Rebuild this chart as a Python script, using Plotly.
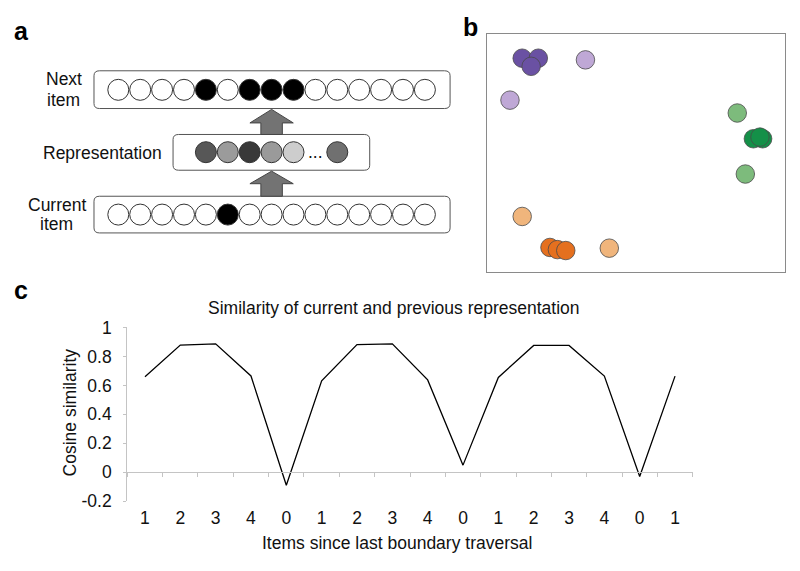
import plotly.graph_objects as go

W, H = 800, 571
FONT = "Liberation Sans, Arial, sans-serif"

# ---------------- Panel c data ----------------
c_labels = ["1", "2", "3", "4", "0", "1", "2", "3", "4", "0", "1", "2", "3", "4", "0", "1"]
c_values = [0.66, 0.878, 0.887, 0.665, -0.09, 0.631, 0.882, 0.887, 0.638, 0.049,
            0.655, 0.876, 0.876, 0.664, -0.03, 0.664]
c_pos = list(range(len(c_labels)))
c_yticks = [-0.2, 0, 0.2, 0.4, 0.6, 0.8, 1]
c_yticktext = ["-0.2", "0", "0.2", "0.4", "0.6", "0.8", "1"]

# ---------------- Panel b data ----------------
b_groups = {
    "purple_dark": ([0.119, 0.173, 0.149], [0.899, 0.899, 0.865], "#6a51a3"),
    "purple_light": ([0.331, 0.078], [0.892, 0.723], "#bfa8d6"),
    "green_light": ([0.840, 0.867], [0.669, 0.413], "#7dbb7c"),
    "green_dark": ([0.894, 0.925, 0.916], [0.561, 0.561, 0.568], "#149048"),
    "orange_light": ([0.119, 0.411], [0.235, 0.102], "#f0b57c"),
    "orange_dark": ([0.212, 0.237, 0.265], [0.105, 0.096, 0.092], "#e5701f"),
}

# ---------------- Panel a data ----------------
n_units = 15
next_item = [0, 0, 0, 0, 1, 0, 1, 1, 1, 0, 0, 0, 0, 0, 0]
current_item = [0, 0, 0, 0, 0, 1, 0, 0, 0, 0, 0, 0, 0, 0, 0]
rep_positions = [4, 5, 6, 7, 8, 10]
rep_shades = ["#575757", "#9b9b9b", "#393939", "#9a9a9a", "#cdcdcd", "#707070"]
row_current, row_rep, row_next = 0, 1, 2


def px_x(p):
    return p / W


def px_y(p):
    return 1 - p / H


fig = go.Figure()

# ---- panel a circles ----
def unit_colors(states):
    return ["#000000" if s else "#ffffff" for s in states]

fig.add_trace(go.Scatter(
    x=list(range(n_units)), y=[row_next] * n_units, mode="markers",
    marker=dict(size=21, color=unit_colors(next_item), line=dict(color="#333333", width=1)),
    xaxis="x3", yaxis="y3", hoverinfo="skip", showlegend=False))
fig.add_trace(go.Scatter(
    x=list(range(n_units)), y=[row_current] * n_units, mode="markers",
    marker=dict(size=21, color=unit_colors(current_item), line=dict(color="#333333", width=1)),
    xaxis="x3", yaxis="y3", hoverinfo="skip", showlegend=False))
fig.add_trace(go.Scatter(
    x=rep_positions, y=[row_rep] * len(rep_positions), mode="markers",
    marker=dict(size=21, color=rep_shades, line=dict(color="#333333", width=1)),
    xaxis="x3", yaxis="y3", hoverinfo="skip", showlegend=False))

# ---- panel b points ----
for name, (xs, ys, col) in b_groups.items():
    fig.add_trace(go.Scatter(
        x=xs, y=ys, mode="markers",
        marker=dict(size=18.5, color=col, line=dict(color="#4a4a4a", width=0.8)),
        xaxis="x2", yaxis="y2", hoverinfo="skip", showlegend=False, name=name))

# ---- panel c line ----
fig.add_trace(go.Scatter(
    x=c_pos, y=c_values, mode="lines", line=dict(color="#000000", width=1.3),
    xaxis="x", yaxis="y", hoverinfo="skip", showlegend=False))
# helper trace on the zero-line axis
fig.add_trace(go.Scatter(x=[None], y=[None], xaxis="x4", yaxis="y", showlegend=False, hoverinfo="skip"))


# ---- panel a boxes and arrows ----
def rounded_rect(x0, x1, y0, y1, rx=0.25, ry=0.08):
    return (f"M {x0+rx},{y0} L {x1-rx},{y0} Q {x1},{y0} {x1},{y0+ry} "
            f"L {x1},{y1-ry} Q {x1},{y1} {x1-rx},{y1} L {x0+rx},{y1} "
            f"Q {x0},{y1} {x0},{y1-ry} L {x0},{y0+ry} Q {x0},{y0} {x0+rx},{y0} Z")

boxes = [
    (-1.11, 15.15, 1.70, 2.305),   # next item
    (2.5, 11.48, 0.711, 1.284),    # representation
    (-1.11, 15.15, -0.294, 0.294), # current item
]
shapes = []
for (x0, x1, y0, y1) in boxes:
    shapes.append(dict(type="path", path=rounded_rect(x0, x1, y0, y1), xref="x3", yref="y3",
                       line=dict(color="#555555", width=1), fillcolor="rgba(0,0,0,0)", layer="below"))

arrow_cx = 7.0
arrows = [(1.284, 1.469, 1.686), (0.294, 0.495, 0.696)]
shaft_hw, head_hw = 0.49, 0.99
for (yb, yh, yt) in arrows:
    pts = [(arrow_cx - shaft_hw, yb), (arrow_cx - shaft_hw, yh), (arrow_cx - head_hw, yh),
           (arrow_cx, yt), (arrow_cx + head_hw, yh), (arrow_cx + shaft_hw, yh), (arrow_cx + shaft_hw, yb)]
    path = "M " + " L ".join(f"{a},{b}" for a, b in pts) + " Z"
    shapes.append(dict(type="path", path=path, xref="x3", yref="y3",
                       line=dict(color="#444444", width=1), fillcolor="#737373"))

annotations = []
lab_font = dict(family=FONT, size=17.5, color="#111111")
for txt, xx, yy in [("Next", -2.48, 2.166), ("item", -2.48, 1.841),
                    ("Representation", -0.72, 0.993),
                    ("Current", -2.82, 0.155), ("item", -2.82, -0.155)]:
    annotations.append(dict(text=txt, x=xx, y=yy, xref="x3", yref="y3", showarrow=False,
                            xanchor="center", yanchor="middle", font=lab_font))
annotations.append(dict(text="...", x=9.0, y=row_rep, xref="x3", yref="y3", showarrow=False,
                        xanchor="center", yanchor="middle", font=dict(family=FONT, size=17.5, color="#111")))

# panel letters
for txt, xp, yp in [("a", 12, 22), ("b", 461, 18), ("c", 12, 290)]:
    annotations.append(dict(text=f"<b>{txt}</b>", x=px_x(xp), y=px_y(yp), xref="paper", yref="paper",
                            showarrow=False, xanchor="left", yanchor="middle",
                            font=dict(family=FONT, size=25, color="#000")))

# panel c titles
annotations.append(dict(text="Similarity of current and previous representation", x=px_x(394), y=px_y(309),
                        xref="paper", yref="paper", showarrow=False, xanchor="center", yanchor="middle",
                        font=dict(family=FONT, size=17.5, color="#111")))
annotations.append(dict(text="Items since last boundary traversal", x=px_x(397), y=px_y(552),
                        xref="paper", yref="paper", showarrow=False, xanchor="center", yanchor="middle",
                        font=dict(family=FONT, size=17.5, color="#111")))
annotations.append(dict(text="Cosine similarity", x=px_x(70), y=px_y(417), textangle=-90,
                        xref="paper", yref="paper", showarrow=False, xanchor="center", yanchor="middle",
                        font=dict(family=FONT, size=17.5, color="#111")))

c_xdom = [px_x(127.3), px_x(692.7)]
c_ydom = [px_y(509), px_y(329)]
zero_pos = px_y(479)

fig.update_layout(
    width=W, height=H, autosize=False, margin=dict(l=0, r=0, t=0, b=0),
    paper_bgcolor="white", plot_bgcolor="rgba(0,0,0,0)",
    font=dict(family=FONT, size=17.5, color="#111"),
    shapes=shapes, annotations=annotations,
    xaxis=dict(domain=c_xdom, range=[-0.5, 15.5], anchor="y", tickvals=c_pos, ticktext=c_labels,
               showgrid=False, zeroline=False, showline=False, ticks="", ticklabelstandoff=4,
               tickfont=dict(family=FONT, size=17.5, color="#111")),
    xaxis4=dict(domain=c_xdom, range=[-0.5, 15.5], anchor="free", overlaying="x", position=zero_pos,
                tick0=-0.5, dtick=1, ticks="outside", ticklen=4, tickcolor="#c4c4c4", tickwidth=1,
                showline=True, linecolor="#c4c4c4", linewidth=1.2, showticklabels=False,
                showgrid=False, zeroline=False),
    yaxis=dict(domain=c_ydom, range=[-0.2, 1.0], anchor="x", tickvals=c_yticks, ticktext=c_yticktext,
               showgrid=False, zeroline=False, showline=True, linecolor="#c4c4c4", linewidth=1.2,
               ticks="outside", ticklen=3, tickcolor="#c4c4c4", ticklabelstandoff=8,
               tickfont=dict(family=FONT, size=17.5, color="#111")),
    xaxis2=dict(domain=[px_x(486.7), px_x(785)], range=[0, 1], anchor="y2", showgrid=False,
                zeroline=False, showticklabels=False, ticks="", showline=True, mirror=True,
                linecolor="#8a8a8a", linewidth=1),
    yaxis2=dict(domain=[px_y(272), px_y(25)], range=[0, 1], anchor="x2", showgrid=False,
                zeroline=False, showticklabels=False, ticks="", showline=True, mirror=True,
                linecolor="#8a8a8a", linewidth=1),
    xaxis3=dict(domain=[px_x(8.8), px_x(468.7)], range=[-5, 16], anchor="y3", visible=False),
    yaxis3=dict(domain=[px_y(250.8), px_y(18.06)], range=[-0.6, 3.0], anchor="x3", visible=False),
)

fig.write_html("out.html", config=dict(displayModeBar=False),
               post_script="document.body.style.margin='0';document.body.style.overflow='hidden';")
